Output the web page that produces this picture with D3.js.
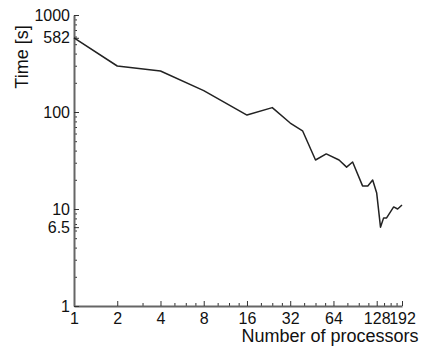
<!DOCTYPE html>
<html>
<head>
<meta charset="utf-8">
<script src="https://cdn.jsdelivr.net/npm/d3@7"></script>
<style>
  body { margin: 0; background: #fff; }
  svg { display: block; font-family: "Liberation Sans", Arial, sans-serif; }
</style>
</head>
<body>
<svg></svg>
<script>
// number of processors and run time in seconds
const processors = [1, 2, 4, 8, 16, 24, 32, 39, 48, 57, 70, 79, 87, 102, 111, 120, 128, 136, 143, 150, 168, 179, 192]
const times = [582, 298, 265, 166, 93, 111, 77, 64, 32, 37, 32, 27, 30.5, 17.3, 17.3, 19.9, 14.6, 6.5, 8.1, 8.1, 10.5, 10, 11]

const xTicks = [1, 2, 4, 8, 16, 32, 64, 128, 192]
const xMinor = [3, 5, 6, 7, 10, 12, 14, 20, 24, 28, 40, 48, 56, 80, 96, 112, 144, 160, 176]
const yTicks = [1, 6.5, 10, 100, 582, 1000]
const yMinor = [2, 3, 4, 5, 6, 7, 8, 9, 20, 30, 40, 50, 60, 70, 80, 90,
                200, 300, 400, 500, 600, 700, 800, 900]

const WIDTH = 424
const HEIGHT = 356
const LEFT = 74
const RIGHT = 402
const TOP = 15
const BOTTOM = 306

const svg = d3.select("svg")
  .attr("width", WIDTH)
  .attr("height", HEIGHT)

const x = d3.scaleLog().base(2)
  .domain([1, 192])
  .range([LEFT, RIGHT])
const y = d3.scaleLog()
  .domain([1, 1000])
  .range([BOTTOM, TOP])

const AXIS_COLOR = "#666"

// minor ticks first, without labels
svg.append("g")
  .attr("transform", `translate(0,${BOTTOM})`)
  .call(d3.axisBottom(x).tickValues(xMinor).tickSize(-3).tickSizeOuter(0).tickFormat(""))
  .call(g => g.select(".domain").remove())
  .call(g => g.selectAll("line").attr("stroke", "#333"))

svg.append("g")
  .attr("transform", `translate(${LEFT},0)`)
  .call(d3.axisLeft(y).tickValues(yMinor).tickSize(-3).tickSizeOuter(0).tickFormat(""))
  .call(g => g.select(".domain").remove())
  .call(g => g.selectAll("line").attr("stroke", "#333"))

// main axes
const xAxis = svg.append("g")
  .attr("transform", `translate(0,${BOTTOM})`)
  .call(d3.axisBottom(x).tickValues(xTicks).tickSize(-5).tickSizeOuter(0).tickPadding(7).tickFormat(d3.format("d")))
xAxis.select(".domain").attr("stroke", AXIS_COLOR).attr("stroke-width", 2)
xAxis.selectAll("line").attr("stroke", "#333")
xAxis.selectAll("text").attr("font-size", 16).attr("fill", "#111").attr("font-family", null)

const yAxis = svg.append("g")
  .attr("transform", `translate(${LEFT},0)`)
  .call(d3.axisLeft(y).tickValues(yTicks).tickSize(-5).tickSizeOuter(0).tickPadding(4).tickFormat(d => String(d)))
yAxis.select(".domain").attr("stroke", AXIS_COLOR).attr("stroke-width", 2)
yAxis.selectAll("line").attr("stroke", "#333")
yAxis.selectAll("text").attr("font-size", 16).attr("fill", "#111").attr("font-family", null)

// the run time line
const line = d3.line()
  .x((d, i) => x(processors[i]))
  .y(d => y(d))

svg.append("path")
  .datum(times)
  .attr("fill", "none")
  .attr("stroke", "#222")
  .attr("stroke-width", 1.5)
  .attr("stroke-linejoin", "round")
  .attr("d", line)

// axis titles
svg.append("text")
  .attr("transform", "translate(28,57) rotate(-90)")
  .attr("text-anchor", "middle")
  .attr("font-size", 18)
  .attr("fill", "#111")
  .text("Time [s]")

svg.append("text")
  .attr("x", 330)
  .attr("y", 342)
  .attr("text-anchor", "middle")
  .attr("font-size", 18)
  .attr("fill", "#111")
  .text("Number of processors")
</script>
</body>
</html>
